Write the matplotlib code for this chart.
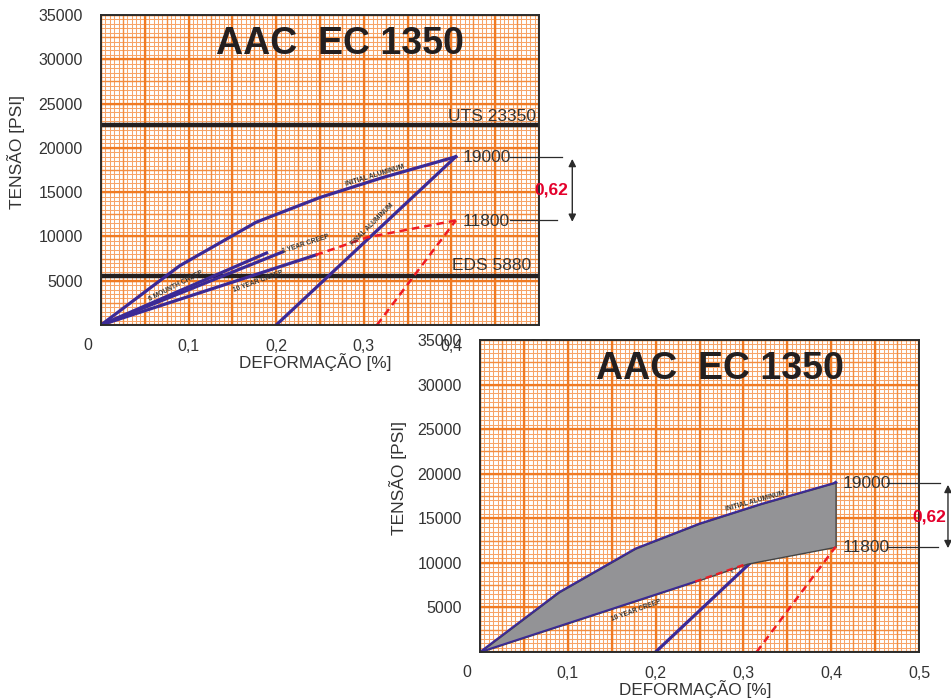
import numpy as np
import matplotlib
matplotlib.use("Agg")
import matplotlib.pyplot as plt

plt.rcParams['font.family'] = ['Liberation Sans', 'DejaVu Sans']

# axis ticks
x_ticks = [0.1, 0.2, 0.3, 0.4, 0.5]
x_tick_labels = ['0,1', '0,2', '0,3', '0,4', '0,5']
y_ticks = [5000, 10000, 15000, 20000, 25000, 30000, 35000]
y_tick_labels = [str(v) for v in y_ticks]

# curves (strain %, stress psi)
initial_x = [0, 0.09, 0.177, 0.25, 0.32, 0.405]
initial_y = [0, 6700, 11600, 14400, 16600, 19000]
creep6m_x = [0, 0.189]
creep6m_y = [0, 8130]
creep1y_x = [0, 0.207]
creep1y_y = [0, 8240]
creep10y_x = [0, 0.245]
creep10y_y = [0, 7900]
creep_end_x = [0.245, 0.304, 0.405]
creep_end_y = [7900, 9900, 11800]
final_al_x = [0.2, 0.405]
final_al_y = [0, 19000]
final_creep_x = [0.315, 0.405]
final_creep_y = [0, 11800]

uts_level = 22600
eds_level = 5550
upper_value = 19000
lower_value = 11800

BLUE = '#3c2a96'
RED = '#ee1c25'
DARK = '#2b2b2b'
TXT = '#333333'


def draw_paper(ax):
    """Orange millimetre paper behind the data."""
    fine_x = np.arange(0, 0.5001, 0.005)
    fine_y = np.arange(0, 35001, 500)
    ax.vlines(fine_x, 0, 35000, colors='#f7a468', lw=0.75, zorder=0)
    ax.hlines(fine_y, 0, 0.5, colors='#f7a468', lw=0.75, zorder=0)
    mid_x = np.arange(0, 0.5001, 0.025)
    mid_y = np.arange(0, 35001, 2500)
    ax.vlines(mid_x, 0, 35000, colors='#f38c3e', lw=1.0, zorder=0)
    ax.hlines(mid_y, 0, 0.5, colors='#f38c3e', lw=1.0, zorder=0)
    maj_x = np.arange(0, 0.5001, 0.05)
    maj_y = np.arange(0, 35001, 5000)
    ax.vlines(maj_x, 0, 35000, colors='#f07a22', lw=1.6, zorder=0)
    ax.hlines(maj_y, 0, 0.5, colors='#f07a22', lw=1.6, zorder=0)


def setup(ax, ylab_x):
    ax.set_xlim(0, 0.5)
    ax.set_ylim(0, 35000)
    ax.set_facecolor('white')
    draw_paper(ax)
    ax.set_xticks(x_ticks)
    ax.set_xticklabels(x_tick_labels)
    ax.set_yticks(y_ticks)
    ax.set_yticklabels(y_tick_labels)
    ax.tick_params(axis='x', length=0, pad=10, labelsize=11.5, colors=TXT)
    ax.tick_params(axis='y', length=0, pad=13, labelsize=11.5, colors=TXT)
    ax.text(-0.03, -0.065, '0', transform=ax.transAxes, ha='center',
            va='center', fontsize=11.5, color=TXT)
    for s in ax.spines.values():
        s.set_color(DARK)
        s.set_linewidth(1.4)
        s.set_zorder(6)
    ax.set_xlabel('DEFORMAÇÃO [%]', fontsize=12.3, color=TXT)
    ax.xaxis.set_label_coords(0.49, -0.09)
    ax.set_ylabel('TENSÃO [PSI]', fontsize=12.5, color=TXT)
    ax.yaxis.set_label_coords(ylab_x, 0.558)
    ax.text(0.273, 31700, 'AAC  EC 1350', ha='center', va='center',
            fontsize=27, fontweight='bold', color='#231f20', zorder=7)


def right_marks(ax, line_start, line_end_hi, line_end_lo, arrow_x, txt_x):
    ax.text(0.413, upper_value - 100, str(upper_value), ha='left', va='center',
            fontsize=12.5, color=TXT, zorder=8)
    ax.text(0.413, lower_value - 100, str(lower_value), ha='left', va='center',
            fontsize=12.5, color=TXT, zorder=8)
    ax.plot([line_start, line_end_hi], [upper_value, upper_value], color=DARK,
            lw=0.9, clip_on=False, zorder=8)
    ax.plot([line_start, line_end_lo], [lower_value, lower_value], color=DARK,
            lw=0.9, clip_on=False, zorder=8)
    ax.annotate('', xy=(arrow_x, lower_value - 150), xytext=(arrow_x, upper_value - 250),
                xycoords='data', annotation_clip=False,
                arrowprops=dict(arrowstyle='<|-|>', color=DARK, lw=1.0,
                                mutation_scale=11, shrinkA=0, shrinkB=0))
    ax.text(txt_x, 15200, '0,62', ha='center', va='center', fontsize=12.5,
            fontweight='bold', color='#e4002b', clip_on=False, zorder=8)


def small_label(ax, x, y, s, rot, z=5):
    ax.text(x, y, s, ha='center', va='center', rotation=rot, fontsize=4.8,
            fontweight='bold', color=TXT, zorder=z, rotation_mode='anchor')


fig = plt.figure(figsize=(9.51, 6.99), dpi=100)
fig.patch.set_facecolor('white')

# ---- upper chart ----
ax1 = fig.add_axes([101 / 951, 374 / 699, 438 / 951, 310 / 699])
setup(ax1, -0.174)
ax1.axhline(uts_level, color='#231f20', lw=3.2, zorder=3)
ax1.axhline(eds_level, color='#231f20', lw=3.2, zorder=3)
ax1.text(0.4966, uts_level + 900, 'UTS 23350', ha='right', va='center',
         fontsize=12.5, color=TXT, zorder=7)
ax1.text(0.4909, eds_level + 1200, 'EDS 5880', ha='right', va='center',
         fontsize=12.5, color=TXT, zorder=7)
ax1.plot(initial_x, initial_y, color=BLUE, lw=2.3, zorder=4)
ax1.plot(creep6m_x, creep6m_y, color=BLUE, lw=2.3, zorder=4)
ax1.plot(creep1y_x, creep1y_y, color=BLUE, lw=2.3, zorder=4)
ax1.plot(creep10y_x, creep10y_y, color=BLUE, lw=2.3, zorder=4)
ax1.plot(final_al_x, final_al_y, color=BLUE, lw=2.3, zorder=4)
ax1.plot(creep_end_x, creep_end_y, color=RED, lw=1.8, ls=(0, (3, 2)), zorder=4)
ax1.plot(final_creep_x, final_creep_y, color=RED, lw=1.8, ls=(0, (3, 2)), zorder=4)
small_label(ax1, 0.313, 16900, 'INITIAL ALUMINUM', 17)
small_label(ax1, 0.234, 9100, '1 YEAR CREEP', 18)
small_label(ax1, 0.086, 4400, '6 MOUNTH CREEP', 27)
small_label(ax1, 0.179, 4850, '10 YEAR CREEP', 20)
small_label(ax1, 0.310, 11300, 'FINAL ALUMINUM', 45)
right_marks(ax1, 0.467, 0.526, 0.521, 0.538, 0.514)

# ---- lower chart ----
ax2 = fig.add_axes([480 / 951, 47 / 699, 439 / 951, 312 / 699])
setup(ax2, -0.166)
band_x = np.unique(np.concatenate([initial_x, creep10y_x, creep_end_x]))
band_hi = np.interp(band_x, initial_x, initial_y)
low_x = creep10y_x + creep_end_x[1:]
low_y = creep10y_y + creep_end_y[1:]
band_lo = np.interp(band_x, low_x, low_y)
small_label(ax2, 0.310, 11300, 'FINAL ALUMINUM', 45, z=1)
ax2.plot(final_al_x, final_al_y, color=BLUE, lw=2.3, zorder=2)
ax2.fill_between(band_x, band_lo, band_hi, facecolor='#939396',
                 edgecolor='#444444', lw=1.0, zorder=3)
ax2.plot(initial_x, initial_y, color=BLUE, lw=1.5, zorder=4)
ax2.plot(creep10y_x, creep10y_y, color=BLUE, lw=1.3, zorder=4)
ax2.plot(creep_end_x[:2], creep_end_y[:2], color=RED, lw=1.6, ls=(0, (3, 2)), zorder=4)
ax2.plot(final_creep_x, final_creep_y, color=RED, lw=1.8, ls=(0, (3, 2)), zorder=4)
small_label(ax2, 0.313, 16900, 'INITIAL ALUMINUM', 15.5)
small_label(ax2, 0.178, 4700, '10 YEAR CREEP', 20)
right_marks(ax2, 0.4636, 0.524, 0.5216, 0.533, 0.512)

fig.savefig('out.png', dpi=100, facecolor='white')
